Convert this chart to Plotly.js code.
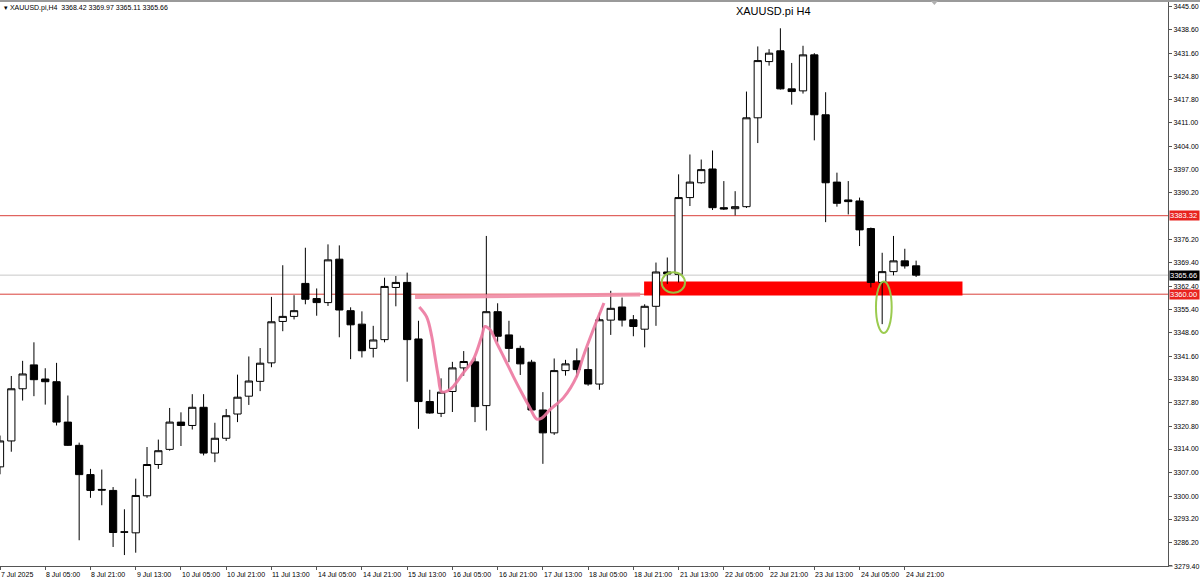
<!DOCTYPE html>
<html>
<head>
<meta charset="utf-8">
<script src="https://cdn.plot.ly/plotly-3.0.1.min.js"></script>
<style>
  html, body { margin: 0; padding: 0; background: #ffffff; }
  #chart { width: 1200px; height: 583px; }
</style>
</head>
<body>
<div id="chart"></div>
<script>
// ---- H4 candles, 7 Jul 13:00 -> 25 Jul 01:00 (index = bar number) ----
const barOpen = [
  3308.7, 3316.4, 3331.9, 3339.0, 3334.8, 3334.0, 3322.0, 3315.1, 3306.4, 3302.0,
  3301.7, 3289.4, 3289.1, 3300.1, 3309.4, 3313.9, 3322.0, 3321.0, 3326.4, 3312.8,
  3317.2, 3324.4, 3329.7, 3334.1, 3339.6, 3351.9, 3353.4, 3363.2, 3358.7, 3357.5,
  3370.4, 3355.1, 3351.1, 3343.9, 3346.5, 3362.0, 3363.5, 3346.7, 3328.1, 3324.6,
  3331.1, 3338.1, 3339.9, 3326.9, 3354.8, 3347.9, 3343.9, 3339.8, 3325.6, 3318.8,
  3337.3, 3340.2, 3337.6, 3333.3, 3352.3, 3356.2, 3352.4, 3349.6, 3356.4, 3366.6,
  3365.9, 3388.7, 3393.1, 3397.2, 3385.7, 3385.4, 3386.0, 3412.4, 3429.1, 3432.3,
  3421.0, 3420.4, 3431.1, 3413.3, 3393.3, 3388.0, 3387.7, 3379.5, 3363.5, 3366.7,
  3369.9, 3368.42
];
const barHigh = [
  3318.0, 3335.7, 3340.2, 3345.7, 3338.0, 3339.6, 3329.9, 3315.9, 3308.1, 3307.9,
  3302.7, 3296.1, 3305.2, 3314.6, 3316.8, 3326.2, 3324.9, 3330.3, 3330.3, 3321.8,
  3325.9, 3336.1, 3341.5, 3344.0, 3359.2, 3368.6, 3359.7, 3373.8, 3361.7, 3374.8,
  3374.5, 3356.1, 3354.9, 3350.6, 3364.9, 3365.4, 3366.4, 3352.1, 3331.6, 3335.0,
  3339.9, 3343.1, 3341.2, 3377.3, 3357.3, 3352.1, 3344.7, 3340.5, 3330.9, 3340.9,
  3340.5, 3343.9, 3344.2, 3354.6, 3361.0, 3359.0, 3353.8, 3357.0, 3369.4, 3370.9,
  3395.6, 3401.5, 3400.0, 3402.7, 3393.6, 3390.6, 3420.2, 3433.6, 3432.8, 3439.0,
  3428.7, 3433.8, 3431.6, 3420.0, 3396.1, 3393.6, 3388.7, 3379.8, 3372.3, 3377.3,
  3373.5, 3369.97
];
const barLow = [
  3306.5, 3313.2, 3328.4, 3329.7, 3327.2, 3321.0, 3314.9, 3286.9, 3299.5, 3297.3,
  3284.9, 3282.5, 3283.2, 3299.5, 3308.1, 3313.5, 3314.9, 3319.8, 3312.1, 3310.1,
  3316.4, 3322.0, 3327.1, 3331.2, 3338.3, 3349.0, 3352.5, 3357.0, 3353.6, 3356.5,
  3347.2, 3340.7, 3341.2, 3341.2, 3345.7, 3356.4, 3334.0, 3320.0, 3324.5, 3323.5,
  3325.0, 3335.8, 3322.0, 3319.5, 3345.7, 3339.8, 3336.0, 3325.4, 3309.6, 3318.2,
  3335.8, 3335.3, 3332.8, 3331.6, 3347.9, 3350.4, 3347.5, 3344.2, 3350.6, 3363.0,
  3363.5, 3386.2, 3392.8, 3385.0, 3385.0, 3383.4, 3385.6, 3404.9, 3427.9, 3420.8,
  3416.3, 3419.6, 3405.7, 3381.4, 3386.0, 3383.7, 3374.3, 3362.0, 3351.1, 3365.6,
  3367.6, 3365.11
];
const barClose = [
  3316.4, 3331.9, 3336.3, 3334.6, 3334.0, 3322.0, 3315.1, 3306.4, 3301.7, 3301.8,
  3289.2, 3289.3, 3300.2, 3309.4, 3313.5, 3322.0, 3321.0, 3326.4, 3312.8, 3317.2,
  3323.9, 3329.4, 3334.2, 3339.5, 3351.8, 3353.4, 3355.1, 3358.5, 3357.5, 3370.2,
  3355.3, 3350.9, 3343.2, 3346.4, 3362.3, 3363.5, 3346.5, 3328.1, 3324.7, 3330.9,
  3338.1, 3340.0, 3326.6, 3354.8, 3347.5, 3343.9, 3339.3, 3325.6, 3318.8, 3337.3,
  3339.3, 3337.6, 3333.3, 3352.4, 3355.8, 3352.3, 3350.4, 3356.4, 3366.6, 3366.0,
  3388.7, 3393.3, 3397.0, 3385.7, 3385.3, 3386.0, 3412.4, 3429.4, 3431.6, 3421.0,
  3420.2, 3431.1, 3413.3, 3393.1, 3387.0, 3387.5, 3379.1, 3363.5, 3366.7, 3369.9,
  3368.4, 3365.66
];

// time axis labels (every 4th H4 bar)
const timeTickIdx = [0, 4, 8, 12, 16, 20, 24, 28, 32, 36, 40, 44, 48, 52, 56, 60, 64, 68, 72, 76, 80];
const timeTickText = [
  "7 Jul 2025", "8 Jul 05:00", "8 Jul 21:00", "9 Jul 13:00", "10 Jul 05:00", "10 Jul 21:00",
  "11 Jul 13:00", "14 Jul 05:00", "14 Jul 21:00", "15 Jul 13:00", "16 Jul 05:00", "16 Jul 21:00",
  "17 Jul 13:00", "18 Jul 05:00", "18 Jul 21:00", "21 Jul 13:00", "22 Jul 05:00", "22 Jul 21:00",
  "23 Jul 13:00", "24 Jul 05:00", "24 Jul 21:00"
];

// price scale labels
const priceTicks = [3445.6, 3438.6, 3431.6, 3424.8, 3417.8, 3411.0, 3404.0, 3397.0, 3390.2,
  3376.2, 3369.4, 3362.4, 3355.4, 3348.6, 3341.6, 3334.8, 3327.8, 3320.8, 3314.0,
  3307.0, 3300.0, 3293.2, 3286.2, 3279.4];
const priceMin = 3279.4;

// horizontal levels
const resistanceLevel = 3383.32;
const supportLevel = 3360.00;
const bidLevel = 3365.66;

const symbolName = "XAUUSD.pi";
const timeframe = "H4";

// hand-drawn annotations (bar index, price)
const cupX = [37.07, 37.73, 38.17, 38.46, 38.75, 39.05, 39.64, 40.08, 40.96, 41.85, 42.59, 42.88,
  43.32, 43.92, 44.65, 45.38, 46.13, 46.86, 47.45, 47.90, 48.63, 49.81, 50.99, 51.57, 52.46, 53.40];
const cupY = [3356.2, 3353.2, 3347.5, 3341.5, 3335.6, 3331.0, 3331.4, 3332.6, 3336.6, 3340.6, 3347.5, 3350.4,
  3349.5, 3345.5, 3340.6, 3335.6, 3330.7, 3326.2, 3322.9, 3323.2, 3325.7, 3329.2, 3335.6, 3341.5, 3349.5, 3357.4];
const necklineX = [36.7, 56.6];
const necklineY = [3359.2, 3359.9];
const zoneX = [56.95, 85.1];
const zoneY = [3359.6, 3363.8];
const ellipseA = { x: [58.5, 60.57], y: [3360.4, 3366.5] };
const ellipseB = { x: [77.45, 78.84], y: [3348.5, 3363.8] };

const idx = barOpen.map((_, i) => i);

const candles = {
  type: "candlestick",
  x: idx,
  open: barOpen, high: barHigh, low: barLow, close: barClose,
  increasing: { line: { color: "#000000", width: 1 }, fillcolor: "#ffffff" },
  decreasing: { line: { color: "#000000", width: 1 }, fillcolor: "#000000" },
  whiskerwidth: 0,
  hoverinfo: "skip",
  showlegend: false
};

const cupTrace = {
  type: "scatter", mode: "lines",
  x: cupX, y: cupY,
  line: { color: "rgba(236,120,160,0.9)", width: 3, shape: "spline", smoothing: 1 },
  hoverinfo: "skip", showlegend: false
};
const neckTrace = {
  type: "scatter", mode: "lines",
  x: necklineX, y: necklineY,
  line: { color: "rgba(240,140,165,0.9)", width: 4 },
  hoverinfo: "skip", showlegend: false
};

const fontFam = "Liberation Sans, Arial, sans-serif";
const xMax = 1168 / 11.31;

function priceLabel(val, bg) {
  return {
    xref: "paper", x: 1, xanchor: "left", xshift: 1,
    yref: "y", y: val, yanchor: "middle",
    text: val.toFixed(2), showarrow: false,
    bgcolor: bg, font: { family: fontFam, size: 7.5, color: "#ffffff" },
    width: 29, height: 9, borderpad: 0, align: "left"
  };
}

const timeLabels = timeTickIdx.map((t, k) => ({
  xref: "x", x: t, xanchor: "left", xshift: 0,
  yref: "paper", y: 0, yanchor: "top", yshift: -4,
  text: timeTickText[k], showarrow: false, borderpad: 0,
  font: { family: fontFam, size: 7, color: "#000000" }
}));

const layout = {
  width: 1200, height: 583,
  margin: { l: 0, r: 32, t: 1, b: 17 },
  paper_bgcolor: "#ffffff", plot_bgcolor: "#ffffff",
  showlegend: false,
  boxgap: 0.2, boxgroupgap: 0.2,
  title: {
    text: symbolName + " " + timeframe,
    font: { family: fontFam, size: 11, color: "#000000" },
    xref: "paper", x: 0.662, xanchor: "center",
    yref: "container", y: 0.981, yanchor: "middle"
  },
  xaxis: {
    type: "linear", range: [0, xMax], fixedrange: true,
    rangeslider: { visible: false },
    tickmode: "array", tickvals: timeTickIdx,
    showticklabels: false,
    ticks: "outside", ticklen: 3, tickcolor: "#555555",
    showgrid: false, zeroline: false,
    showline: true, linecolor: "#555555", linewidth: 1
  },
  yaxis: {
    side: "right", range: [3279.25, 3447.1], fixedrange: true,
    tickmode: "array", tickvals: priceTicks,
    ticktext: priceTicks.map(v => v === priceMin ? "" : v.toFixed(2)),
    ticks: "outside", ticklen: 3, tickcolor: "#555555",
    tickfont: { family: fontFam, size: 7, color: "#000000" },
    showgrid: false, zeroline: false,
    showline: true, linecolor: "#555555", linewidth: 1
  },
  shapes: [
    { type: "line", xref: "paper", x0: 0, x1: 1, yref: "y", y0: bidLevel, y1: bidLevel,
      line: { color: "#c8c8c8", width: 1 }, layer: "below" },
    { type: "line", xref: "paper", x0: 0, x1: 1, yref: "y", y0: resistanceLevel, y1: resistanceLevel,
      line: { color: "#d9403a", width: 1 }, layer: "below" },
    { type: "line", xref: "paper", x0: 0, x1: 1, yref: "y", y0: supportLevel, y1: supportLevel,
      line: { color: "#d9403a", width: 1 }, layer: "below" },
    { type: "rect", xref: "x", yref: "y", x0: zoneX[0], x1: zoneX[1], y0: zoneY[0], y1: zoneY[1],
      fillcolor: "#ff0000", line: { width: 0 }, layer: "below" },
    { type: "circle", xref: "x", yref: "y", x0: ellipseA.x[0], x1: ellipseA.x[1], y0: ellipseA.y[0], y1: ellipseA.y[1],
      line: { color: "rgba(150,200,70,0.95)", width: 2 }, layer: "above" },
    { type: "circle", xref: "x", yref: "y", x0: ellipseB.x[0], x1: ellipseB.x[1], y0: ellipseB.y[0], y1: ellipseB.y[1],
      line: { color: "rgba(150,200,70,0.95)", width: 2 }, layer: "above" },
    { type: "line", xref: "paper", x0: 0, x1: 1.03, yref: "paper", y0: 1, y1: 1,
      line: { color: "#9a9a9a", width: 2 }, layer: "above" },
    { type: "line", xref: "paper", x0: 1, x1: 1.004, yref: "paper", y0: 0, y1: 0,
      line: { color: "#555555", width: 1 }, layer: "above" },
    { type: "path", xref: "paper", yref: "paper",
      path: "M 0.797,1 L 0.803,1 L 0.800,0.993 Z",
      fillcolor: "#b0b0b0", line: { width: 0 }, layer: "above" }
  ],
  annotations: [
    {
      xref: "paper", x: 0, xanchor: "left", xshift: 2,
      yref: "paper", y: 1, yanchor: "top", yshift: -1,
      text: "\u25BE " + symbolName + "," + timeframe + "  " +
        [barOpen[81], barHigh[81], barLow[81], barClose[81]].map(v => v.toFixed(2)).join(" "),
      showarrow: false, align: "left",
      font: { family: fontFam, size: 7, color: "#000000" }
    },
    {
      xref: "paper", x: 1, xanchor: "left", xshift: 5,
      yref: "paper", y: 0, yanchor: "middle", yshift: 0,
      text: priceMin.toFixed(2), showarrow: false, borderpad: 0,
      font: { family: fontFam, size: 7, color: "#000000" }
    },
    priceLabel(resistanceLevel, "#e8231f"),
    priceLabel(bidLevel, "#000000"),
    priceLabel(supportLevel, "#e8231f")
  ].concat(timeLabels)
};

Plotly.newPlot("chart", [candles, neckTrace, cupTrace], layout, { staticPlot: true, displayModeBar: false });
</script>
</body>
</html>
